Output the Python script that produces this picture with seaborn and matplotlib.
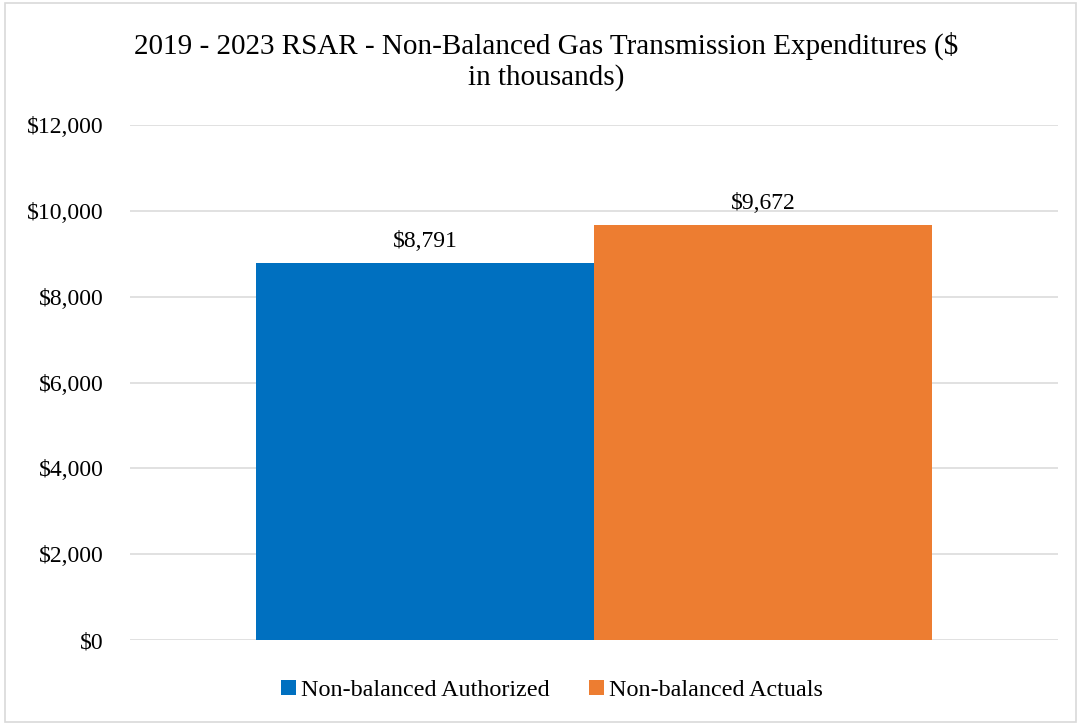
import numpy as np
import pandas as pd
import matplotlib
matplotlib.use('Agg')
import matplotlib.pyplot as plt
from matplotlib.patches import Rectangle
import seaborn as sns

# chart data
categories = ['RSAR']
series_names = ['Non-balanced Authorized', 'Non-balanced Actuals']
series_values = [8791, 9672]
series_colors = ['#0070C0', '#ED7D31']
y_ticks = [0, 2000, 4000, 6000, 8000, 10000, 12000]
title_text = '2019 - 2023 RSAR - Non-Balanced Gas Transmission Expenditures ($\nin thousands)'

df = pd.DataFrame({
    'category': categories * len(series_names),
    'series': series_names,
    'value': series_values,
})

sns.set_theme(style='white')
plt.rcParams['font.family'] = ['Liberation Serif', 'DejaVu Serif']
plt.rcParams['text.color'] = '#000000'

fig = plt.figure(figsize=(10.78, 7.25), dpi=100)
ax = fig.add_axes([0.1206, 0.1172, 0.8609, 0.7103])

sns.barplot(data=df, x='category', y='value', hue='series',
            palette=series_colors, width=0.728, saturation=1,
            linewidth=0, ax=ax, legend=True)

ax.set_ylim(0, 12000)
ax.set_yticks(y_ticks)
ax.set_yticklabels([f'${v:,.0f}' for v in y_ticks], fontsize=17, color='#000000')
ax.set_xticks([])
ax.set_xlabel('')
ax.set_ylabel('')
ax.set_xlim(-0.5, 0.5)
ax.yaxis.grid(True, color='#D9D9D9', linewidth=1.1)
ax.set_axisbelow(True)
ax.tick_params(axis='y', length=0, pad=19)
for s in ax.spines.values():
    s.set_visible(False)

for cont in ax.containers:
    ax.bar_label(cont, labels=[f'${v:,.0f}' for v in cont.datavalues],
                 fontsize=17, padding=8, color='#000000')

# legend below the plot
handles, labels = ax.get_legend_handles_labels()
ax.legend_.remove()
fig.legend(handles, labels, loc='center', bbox_to_anchor=(0.512, 0.048),
           ncol=2, frameon=False, fontsize=17.4, handlelength=0.6,
           handleheight=0.6, handletextpad=0.2, columnspacing=1.65,
           labelcolor='#000000')

fig.text(0.507, 0.915, title_text, ha='center', va='center',
         fontsize=21, linespacing=1.2, color='#000000')

# outer border
fig.patches.append(Rectangle((0.005, 0.004), 0.993, 0.992, transform=fig.transFigure,
                             fill=False, edgecolor='#D9D9D9', linewidth=1.2))

fig.savefig('out.png', dpi=100)
